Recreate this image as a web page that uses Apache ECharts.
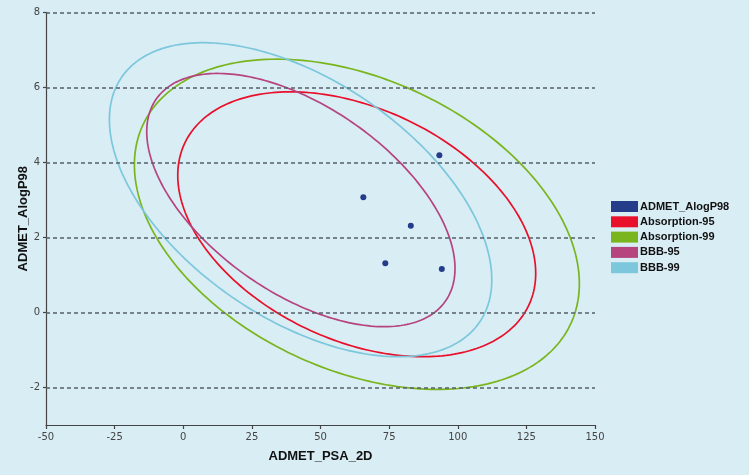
<!DOCTYPE html>
<html>
<head>
<meta charset="utf-8">
<script src="https://cdn.jsdelivr.net/npm/echarts@6/dist/echarts.min.js"></script>
<style>html,body{margin:0;padding:0;background:#d9edf5;}#c{width:749px;height:475px;}</style>
</head>
<body>
<div id="c"></div>
<script>
// ---- data ----
var pointPSA = [93.3, 65.6, 82.9, 73.6, 94.2];
var pointAlogP = [4.19, 3.07, 2.31, 1.31, 1.16];

var ellipseNames = ['Absorption-95', 'Absorption-99', 'BBB-95', 'BBB-99'];
var ellipseXMin = [-2.0, -17.8, -13.3, -26.9];
var ellipseXMax = [128.4, 144.3, 99.0, 112.4];
var ellipseYMin = [-1.18, -2.05, -0.38, -1.18];
var ellipseYMax = [5.88, 6.75, 6.37, 7.19];
var ellipseRho = [-0.37, -0.36, -0.54, -0.51];
var ellipseColors = ['#e8102a', '#7ab51d', '#b5447f', '#7cc7dc'];

var xTicks = [-50, -25, 0, 25, 50, 75, 100, 125, 150];
var yTicks = [-2, 0, 2, 4, 6, 8];

var chart = echarts.init(document.getElementById('c'), null, {renderer: 'canvas'});

function ellipseRender(color) {
  return function (params, api) {
    var x0 = api.value(0), x1 = api.value(1), y0 = api.value(2), y1 = api.value(3), rho = api.value(4);
    var cx = (x0 + x1) / 2, cy = (y0 + y1) / 2, w = (x1 - x0) / 2, h = (y1 - y0) / 2;
    var d = Math.acos(rho);
    var pts = [];
    for (var i = 0; i <= 240; i++) {
      var s = i / 240 * Math.PI * 2;
      pts.push(api.coord([cx + w * Math.cos(s), cy + h * Math.cos(s - d)]));
    }
    return {type: 'polyline', shape: {points: pts}, style: {stroke: color, fill: null, lineWidth: 1.7}, silent: true};
  };
}

var series = [];
ellipseNames.forEach(function (n, i) {
  series.push({
    name: n, type: 'custom', coordinateSystem: 'cartesian2d',
    itemStyle: {color: ellipseColors[i]},
    encode: {x: [0, 1], y: [2, 3]},
    renderItem: ellipseRender(ellipseColors[i]),
    data: [[ellipseXMin[i], ellipseXMax[i], ellipseYMin[i], ellipseYMax[i], ellipseRho[i]]],
    z: 2
  });
});
series.unshift({
  name: 'ADMET_AlogP98', type: 'scatter', symbolSize: 6,
  itemStyle: {color: '#253c8a', opacity: 1},
  data: pointPSA.map(function (v, i) { return [v, pointAlogP[i]]; }),
  z: 5,
  markLine: {
    silent: true, symbol: 'none', animation: false,
    label: {show: false},
    lineStyle: {color: '#56606a', type: [4, 3], width: 1.5},
    data: yTicks.map(function (v) { return {yAxis: v}; })
  }
});

chart.setOption({
  backgroundColor: '#d9edf5',
  animation: false,
  grid: {left: 46, right: 154, top: 12.3, bottom: 50, containLabel: false},
  legend: {
    orient: 'vertical', left: 611, top: 201, icon: 'rect', padding: 0,
    itemWidth: 27, itemHeight: 11, itemGap: 4.3,
    itemStyle: {opacity: 1},
    textStyle: {fontFamily: 'Liberation Sans', fontWeight: 'bold', fontSize: 11, color: '#111', padding: [0, 0, 0, -3]},
    data: ['ADMET_AlogP98'].concat(ellipseNames)
  },
  xAxis: {
    type: 'value', min: -50, max: 150, interval: 25,
    name: 'ADMET_PSA_2D', nameLocation: 'middle', nameGap: 25, nameMoveOverlap: false,
    nameTextStyle: {fontFamily: 'Liberation Sans', fontWeight: 'bold', fontSize: 13, color: '#111'},
    axisLine: {show: true, onZero: false, lineStyle: {color: '#444', width: 1.2}},
    axisTick: {show: true, length: 4, lineStyle: {color: '#444', width: 1.2}, customValues: xTicks},
    axisLabel: {fontFamily: 'DejaVu Sans', fontSize: 10, color: '#444', margin: 7, customValues: xTicks},
    splitLine: {show: false}
  },
  yAxis: {
    type: 'value', min: -3, max: 8, interval: 1,
    name: 'ADMET_AlogP98', nameLocation: 'middle', nameGap: 16, nameRotate: 90, nameMoveOverlap: false,
    nameTextStyle: {fontFamily: 'Liberation Sans', fontWeight: 'bold', fontSize: 13, color: '#111'},
    axisLine: {show: true, onZero: false, lineStyle: {color: '#444', width: 1.2}},
    axisTick: {show: true, length: 3, lineStyle: {color: '#444', width: 1.2}, customValues: yTicks},
    axisLabel: {fontFamily: 'DejaVu Sans', fontSize: 10, color: '#444', margin: 6, customValues: yTicks},
    splitLine: {show: false}
  },
  series: series
});
</script>
</body>
</html>
